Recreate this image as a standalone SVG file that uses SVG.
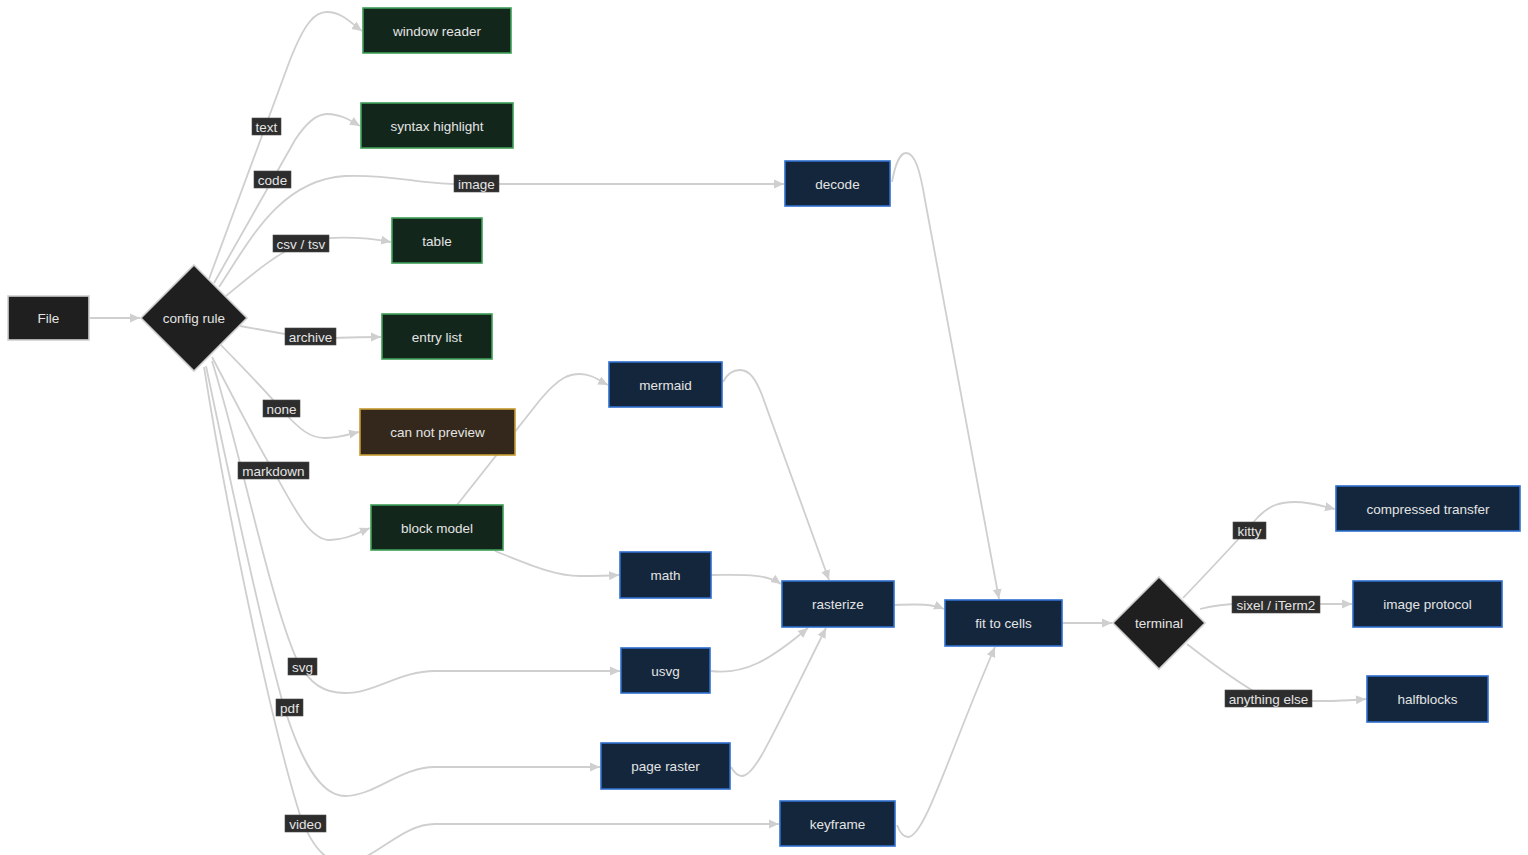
<svg xmlns="http://www.w3.org/2000/svg" width="1528" height="855" viewBox="0 0 1528 855">
<style>
.e{fill:none;stroke:#cfcfcf;stroke-width:1.8;marker-end:url(#ah)}
.n{stroke-width:1.6}
.g{fill:#13261c;stroke:#3e9f57}
.b{fill:#13263b;stroke:#2f6fcf}
.w{fill:#33281b;stroke:#c79a30}
.k{fill:#1f1f1f;stroke:#d0d0d0}
.t{font-family:"Liberation Sans",Arial,sans-serif;font-size:13.5px;fill:#e4e4e4;text-anchor:middle;dominant-baseline:central}
.lb{fill:#2d2d2d;stroke:#4a4a4a;stroke-width:0.6}
</style>
<defs>
<marker id="ah" markerUnits="userSpaceOnUse" markerWidth="10" markerHeight="10" refX="10" refY="5" orient="auto">
<path d="M0,0.5 L10,5 L0,9.5 z" fill="#cfcfcf"/>
</marker>
</defs>
<rect width="1528" height="855" fill="#ffffff"/>
<g id="connectors">
<path class="e" d="M90,318 L140,318"/>
<path class="e" d="M209,279 L290,60 C305,22 315,12 327,12 C342,12 352,24 362,31"/>
<path class="e" d="M214,283 L295,140 C308,120 318,114 327,114 C340,114 350,120 360,126"/>
<path class="e" d="M219,287 C250,240 280,180 345,176 C390,174 420,184 454,184 L784,184"/>
<path class="e" d="M226,296 C255,272 275,255 301,243 C320,236 360,236 391,242"/>
<path class="e" d="M240,326 L285,334 L336,338 C350,337 365,337 381,337"/>
<path class="e" d="M220,344 C245,370 265,390 281,409 C300,430 310,438 325,438 C340,438 350,434 359,432"/>
<path class="e" d="M212,357 C240,410 260,450 273,470 C295,510 310,540 330,540 C345,540 358,533 370,528"/>
<path class="e" d="M212,361 C240,450 270,600 297,660 C310,685 325,693 345,693 C375,693 400,671 435,671 L620,671"/>
<path class="e" d="M206,366 C230,480 260,620 282,700 C300,760 320,796 345,796 C375,796 400,767 435,767 L600,767"/>
<path class="e" d="M204,367 C225,500 270,720 300,815 C315,855 330,862 345,862 C375,862 400,824 435,824 L779,824"/>
<path class="e" d="M457,505 L540,400 C560,376 570,374 580,374 C592,374 600,381 608,385"/>
<path class="e" d="M495,551 C530,565 555,576 580,576 C595,576 605,576 619,575"/>
<path class="e" d="M723,382 C728,372 735,370 740,370 C750,370 756,380 762,395 L829,580"/>
<path class="e" d="M711,575 C740,575 765,573 781,584"/>
<path class="e" d="M711,671 C745,675 770,660 808,628"/>
<path class="e" d="M731,767 C735,774 738,776 742,776 C755,776 770,740 826,628"/>
<path class="e" d="M894,605 C920,604 932,604 944,609"/>
<path class="e" d="M892,182 C895,165 900,153 906,153 C915,153 920,170 925,200 L999,599"/>
<path class="e" d="M897,825 C900,833 904,837 908,837 C925,837 950,750 995,647"/>
<path class="e" d="M1062,623 L1112,623"/>
<path class="e" d="M1183,598 C1205,575 1240,538 1258,517 C1270,505 1280,502 1295,502 C1310,502 1322,506 1335,509"/>
<path class="e" d="M1200,609 C1212,606 1222,604 1240,604 L1352,604"/>
<path class="e" d="M1187,644 C1210,662 1235,680 1255,692 C1280,703 1330,702 1366,699"/>
<g id="edge-labels">
<rect class="lb" x="252" y="118" width="29" height="17"/><text class="t" x="266.5" y="127">text</text>
<rect class="lb" x="254" y="171" width="37" height="17"/><text class="t" x="272.5" y="180">code</text>
<rect class="lb" x="454" y="175" width="45" height="17"/><text class="t" x="476.5" y="184">image</text>
<rect class="lb" x="273" y="235" width="56" height="17"/><text class="t" x="301" y="244">csv / tsv</text>
<rect class="lb" x="285" y="328" width="51" height="17"/><text class="t" x="310.5" y="337">archive</text>
<rect class="lb" x="263" y="400" width="37" height="17"/><text class="t" x="281.5" y="409">none</text>
<rect class="lb" x="238" y="462" width="71" height="17"/><text class="t" x="273.5" y="471">markdown</text>
<rect class="lb" x="288" y="658" width="29" height="17"/><text class="t" x="302.5" y="667">svg</text>
<rect class="lb" x="276" y="699" width="27" height="17"/><text class="t" x="289.5" y="708">pdf</text>
<rect class="lb" x="285" y="815" width="41" height="17"/><text class="t" x="305.5" y="824">video</text>
<rect class="lb" x="1233" y="522" width="33" height="17"/><text class="t" x="1249.5" y="531">kitty</text>
<rect class="lb" x="1232" y="596" width="88" height="17"/><text class="t" x="1276" y="605">sixel / iTerm2</text>
<rect class="lb" x="1225" y="690" width="87" height="17"/><text class="t" x="1268.5" y="699">anything else</text>
</g>
</g>
<g id="file"><rect class="n k" x="8" y="296" width="81" height="44"/><text class="t" x="48.5" y="318">File</text></g>
<g id="config-rule"><polygon class="n k" points="194,265 247,318 194,371 141,318"/><text class="t" x="194" y="318">config rule</text></g>
<g id="window-reader"><rect class="n g" x="363" y="8" width="148" height="45"/><text class="t" x="437" y="31">window reader</text></g>
<g id="syntax-highlight"><rect class="n g" x="361" y="103" width="152" height="45"/><text class="t" x="437" y="126">syntax highlight</text></g>
<g id="table"><rect class="n g" x="392" y="218" width="90" height="45"/><text class="t" x="437" y="241">table</text></g>
<g id="entry-list"><rect class="n g" x="382" y="314" width="110" height="45"/><text class="t" x="437" y="337">entry list</text></g>
<g id="can-not-preview"><rect class="n w" x="360" y="409" width="155" height="46"/><text class="t" x="437.5" y="432">can not preview</text></g>
<g id="block-model"><rect class="n g" x="371" y="505" width="132" height="45"/><text class="t" x="437" y="528">block model</text></g>
<g id="decode"><rect class="n b" x="785" y="161" width="105" height="45"/><text class="t" x="837.5" y="184">decode</text></g>
<g id="mermaid"><rect class="n b" x="609" y="362" width="113" height="45"/><text class="t" x="665.5" y="385">mermaid</text></g>
<g id="math"><rect class="n b" x="620" y="552" width="91" height="46"/><text class="t" x="665.5" y="575">math</text></g>
<g id="usvg"><rect class="n b" x="621" y="648" width="89" height="45"/><text class="t" x="665.5" y="671">usvg</text></g>
<g id="page-raster"><rect class="n b" x="601" y="743" width="129" height="46"/><text class="t" x="665.5" y="766">page raster</text></g>
<g id="keyframe"><rect class="n b" x="780" y="801" width="115" height="45"/><text class="t" x="837.5" y="824">keyframe</text></g>
<g id="rasterize"><rect class="n b" x="782" y="581" width="112" height="46"/><text class="t" x="838" y="604">rasterize</text></g>
<g id="fit-to-cells"><rect class="n b" x="945" y="600" width="117" height="46"/><text class="t" x="1003.5" y="623">fit to cells</text></g>
<g id="terminal"><polygon class="n k" points="1159,577 1205,623 1159,669 1113,623"/><text class="t" x="1159" y="623">terminal</text></g>
<g id="compressed-transfer"><rect class="n b" x="1336" y="486" width="184" height="45"/><text class="t" x="1428" y="509">compressed transfer</text></g>
<g id="image-protocol"><rect class="n b" x="1353" y="581" width="149" height="46"/><text class="t" x="1427.5" y="604">image protocol</text></g>
<g id="halfblocks"><rect class="n b" x="1367" y="676" width="121" height="46"/><text class="t" x="1427.5" y="699">halfblocks</text></g>
</svg>
